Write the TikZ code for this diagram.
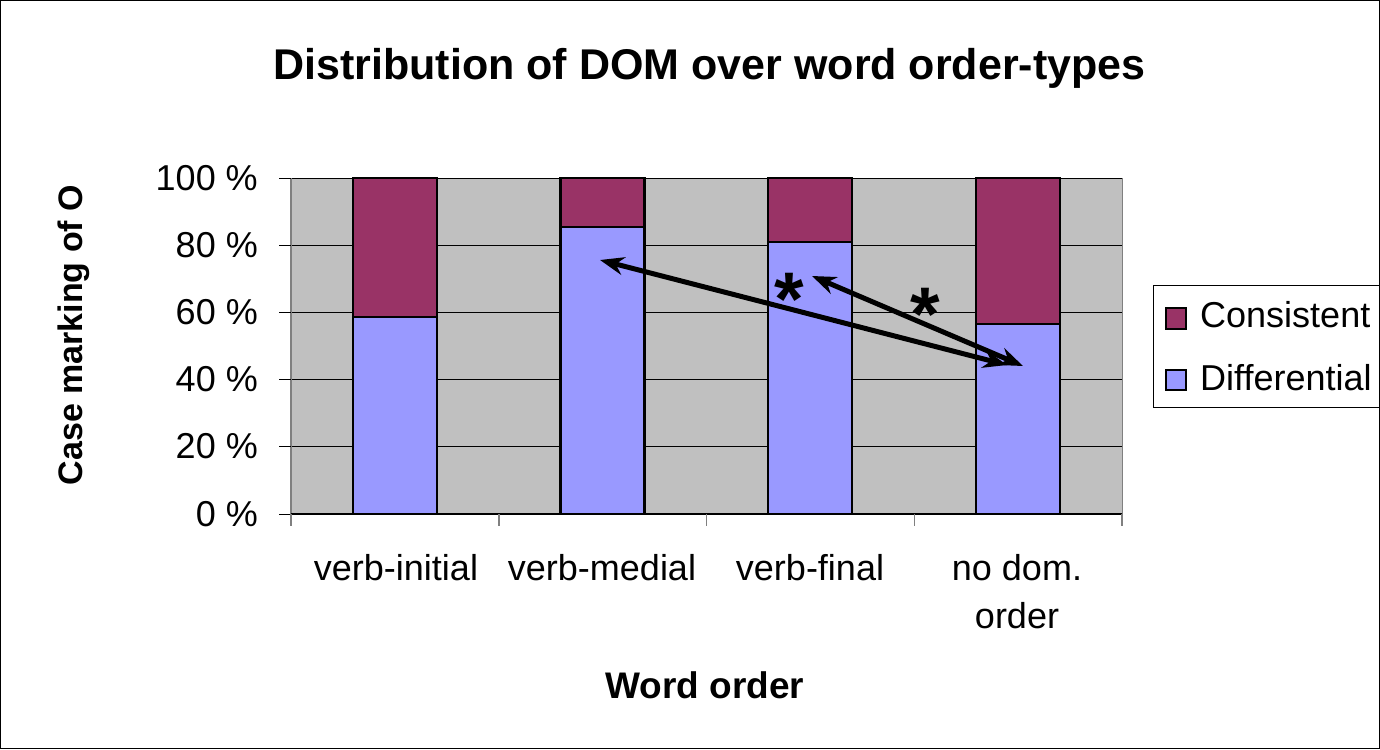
\documentclass[tikz,border=0pt]{standalone}
\usepackage{fontspec}
\setmainfont{Liberation Sans}
\usetikzlibrary{arrows.meta}
\definecolor{plotgray}{HTML}{C0C0C0}
\definecolor{consist}{HTML}{993366}
\definecolor{diffc}{HTML}{9999FF}
\definecolor{axisgray}{HTML}{808080}
\begin{document}
\begin{tikzpicture}[x=1pt,y=-1pt,
  lbl/.style={font=\fontsize{36}{48}\selectfont, inner sep=0pt},
  bartxt/.style={font=\bfseries\fontsize{37}{44}\selectfont, inner sep=0pt},
  gridline/.style={draw=black, line width=1pt},
  barbox/.style={draw=black, line width=2.5pt},
  sigarrow/.style={line width=5pt, {Stealth[length=24pt,width=18pt]}-{Stealth[length=24pt,width=18pt]}},
  starlbl/.style={font=\bfseries\fontsize{76}{86}\selectfont, inner sep=0pt}]
\useasboundingbox (0,0) rectangle (1380,749);
\draw[line width=1pt] (0.5,0.5) rectangle (1379.5,748.5);
% title
\node[anchor=base, font=\bfseries\fontsize{43}{50}\selectfont, inner sep=0pt] (title) at (709.5,80) {Distribution of DOM over word order-types};
% plot area
\fill[plotgray] (291,178) rectangle (1122,514);
\foreach \v in {20,40,60,80,100} {
  \draw[gridline] (291,{514-3.36*\v}) -- (1122,{514-3.36*\v});
}
\draw[axisgray, line width=1pt] (1122,178) -- (1122,514);
% bars
\foreach \c/\v in {395/58.6,602.5/85.4,810/81.0,1018/56.5} {
  \path[barbox, fill=diffc] (\c-42,514) rectangle (\c+42,{514-3.36*\v});
  \path[barbox, fill=consist] (\c-42,{514-3.36*\v}) rectangle (\c+42,178);
}
% axes
\draw[axisgray, line width=1.5pt] (291,178) -- (291,526);
\draw[black, line width=1.5pt] (291,514) -- (1122,514);
\foreach \v in {0,20,40,60,80,100} {
  \draw[black, line width=1pt] (279,{514-3.36*\v}) -- (291,{514-3.36*\v});
  \node[lbl, anchor=base east] (y\v) at (258,{526-3.36*\v}) {\v\ \%};
}
\foreach \x in {291,498.75,706.5,914.25,1122} {
  \draw[axisgray, line width=1.5pt] (\x,514) -- (\x,526);
}
% category labels
\node[lbl, anchor=base] (c1) at (396,580) {verb-initial};
\node[lbl, anchor=base] (c2) at (602,580) {verb-medial};
\node[lbl, anchor=base] (c3) at (810,580) {verb-final};
\node[lbl, anchor=base] (c4a) at (1017,580) {no dom.};
\node[lbl, anchor=base] (c4b) at (1017,628) {order};
% axis titles
\node[bartxt, anchor=base] (xt) at (705,698) {Word order};
\node[font=\bfseries\fontsize{34}{40}\selectfont, inner sep=0pt, anchor=base, rotate=90] (yt) at (82,335) {Case marking of O};
% legend
\draw[black, line width=1pt] (1379,285) -- (1153,285) -- (1153,407) -- (1379,407);
\draw[black, line width=1.5pt, fill=consist] (1166,308) rectangle (1186,329);
\draw[black, line width=1.5pt, fill=diffc] (1166,370) rectangle (1186,390);
\node[lbl, anchor=base west] (lc) at (1200,327) {Consistent};
\node[lbl, anchor=base west] (ld) at (1200,390) {Differential};
% significance arrows
\coordinate (pm) at (600,260);
\coordinate (pn1) at (1007,365);
\coordinate (pf) at (812,276);
\coordinate (pn2) at (1023,366);
\draw[sigarrow] (pm) -- (pn1);
\draw[sigarrow] (pf) -- (pn2);
\node[starlbl, anchor=base] (star1) at (789,325) {*};
\node[starlbl, anchor=base] (star2) at (925,340) {*};
\end{tikzpicture}
\end{document}
